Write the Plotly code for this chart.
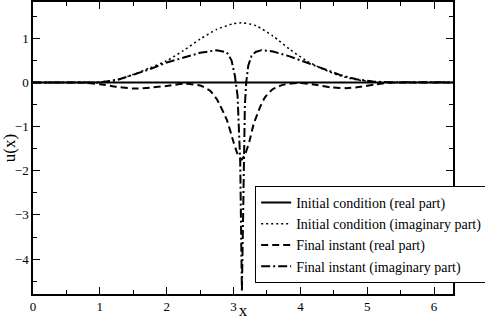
import plotly.graph_objects as go

# valori
x_init_re = [0, 1.0, 2.0, 3.0, 4.0, 5.0, 6.2832]
y_init_re = [0, 0, 0, 0, 0, 0, 0]

x_init_im = [0, 0.5, 1.0, 1.3, 1.5, 1.75, 2.0, 2.25, 2.5, 2.75, 3.0, 3.14, 3.34, 3.59,
             3.84, 4.09, 4.34, 4.59, 4.84, 5.09, 5.4, 6.0, 6.2832]
y_init_im = [0, 0, 0.01, 0.08, 0.18, 0.33, 0.49, 0.72, 0.98, 1.2, 1.33, 1.35, 1.28, 1.05,
             0.75, 0.49, 0.30, 0.15, 0.06, 0.015, 0, 0, 0]

x_fin_re = [0, 0.5, 0.8, 1.0, 1.25, 1.5, 1.75, 2.0, 2.25, 2.5, 2.65, 2.75, 2.9, 3.0, 3.06,
            3.12, 3.18, 3.24, 3.3, 3.4, 3.47, 3.59, 3.75, 3.97, 4.2, 4.45, 4.69, 4.9, 5.1,
            5.3, 5.6, 6.0, 6.2832]
y_fin_re = [0, 0, -0.01, -0.04, -0.1, -0.14, -0.12, -0.08, -0.03, -0.07, -0.19, -0.38, -0.85,
            -1.35, -1.62, -1.75, -1.6, -1.32, -0.95, -0.55, -0.34, -0.15, -0.05, -0.01, -0.05,
            -0.11, -0.13, -0.1, -0.05, -0.01, 0, 0, 0]

x_fin_im = [0, 0.5, 1.0, 1.25, 1.5, 1.75, 2.0, 2.25, 2.5, 2.75, 2.9, 2.97, 3.02, 3.06, 3.1,
            3.125, 3.15, 3.17, 3.19, 3.22, 3.27, 3.33, 3.42, 3.59, 3.84, 4.09, 4.34, 4.59,
            4.84, 5.09, 5.3, 5.6, 6.0, 6.2832]
y_fin_im = [0, 0, 0, 0.05, 0.17, 0.3, 0.45, 0.56, 0.67, 0.73, 0.68, 0.5, 0.15, -0.3, -1.8,
            -4.74, -1.8, -0.5, 0, 0.38, 0.6, 0.69, 0.73, 0.70, 0.59, 0.45, 0.30, 0.17,
            0.07, 0.02, 0.005, 0, 0, 0]

font_family = "Liberation Serif"

fig = go.Figure()
fig.add_trace(go.Scatter(x=x_init_re, y=y_init_re, mode='lines',
                         name='Initial condition (real part)',
                         line=dict(color='black', width=2)))
fig.add_trace(go.Scatter(x=x_init_im, y=y_init_im, mode='lines',
                         name='Initial condition (imaginary part)',
                         line=dict(color='black', width=1.5, dash='2px,3px', shape='spline', smoothing=0.6)))
fig.add_trace(go.Scatter(x=x_fin_re, y=y_fin_re, mode='lines',
                         name='Final instant (real part)',
                         line=dict(color='black', width=2, dash='7px,4px', shape='spline', smoothing=0.5)))
fig.add_trace(go.Scatter(x=x_fin_im, y=y_fin_im, mode='lines',
                         name='Final instant (imaginary part)',
                         line=dict(color='black', width=2, dash='9px,3px,2px,3px')))

axis_style = dict(showgrid=False, zeroline=False, showline=True, linecolor='black', linewidth=1.5,
                  mirror='allticks', ticks='inside', ticklen=7, tickwidth=1, tickcolor='black',
                  automargin=False,
                  tickfont=dict(family=font_family, size=13, color='black'),
                  minor=dict(ticks='inside', ticklen=4, tickcolor='black', dtick=0.5))

fig.update_xaxes(range=[0, 6.2832], dtick=1, tick0=0,
                 title=dict(text='x', font=dict(family=font_family, size=17, color='black'), standoff=2),
                 **axis_style)
fig.update_yaxes(range=[-4.79, 1.82], dtick=1, tick0=0,
                 title=dict(text='u(x)', font=dict(family=font_family, size=17, color='black'), standoff=4),
                 **axis_style)

fig.update_layout(
    width=485, height=320,
    margin=dict(l=33, r=32, t=2, b=26, autoexpand=False),
    plot_bgcolor='white', paper_bgcolor='white',
    font=dict(family=font_family, color='black'),
    legend=dict(x=0.529, y=0.37, xanchor='left', yanchor='top',
                bgcolor='white', bordercolor='black', borderwidth=1,
                font=dict(family=font_family, size=14, color='black'),
                tracegroupgap=0, itemwidth=30),
)

# niente margine della pagina, la figura parte da (0,0)
fig.write_html("out.html", config={'displayModeBar': False},
               post_script="document.body.style.margin='0px';")
